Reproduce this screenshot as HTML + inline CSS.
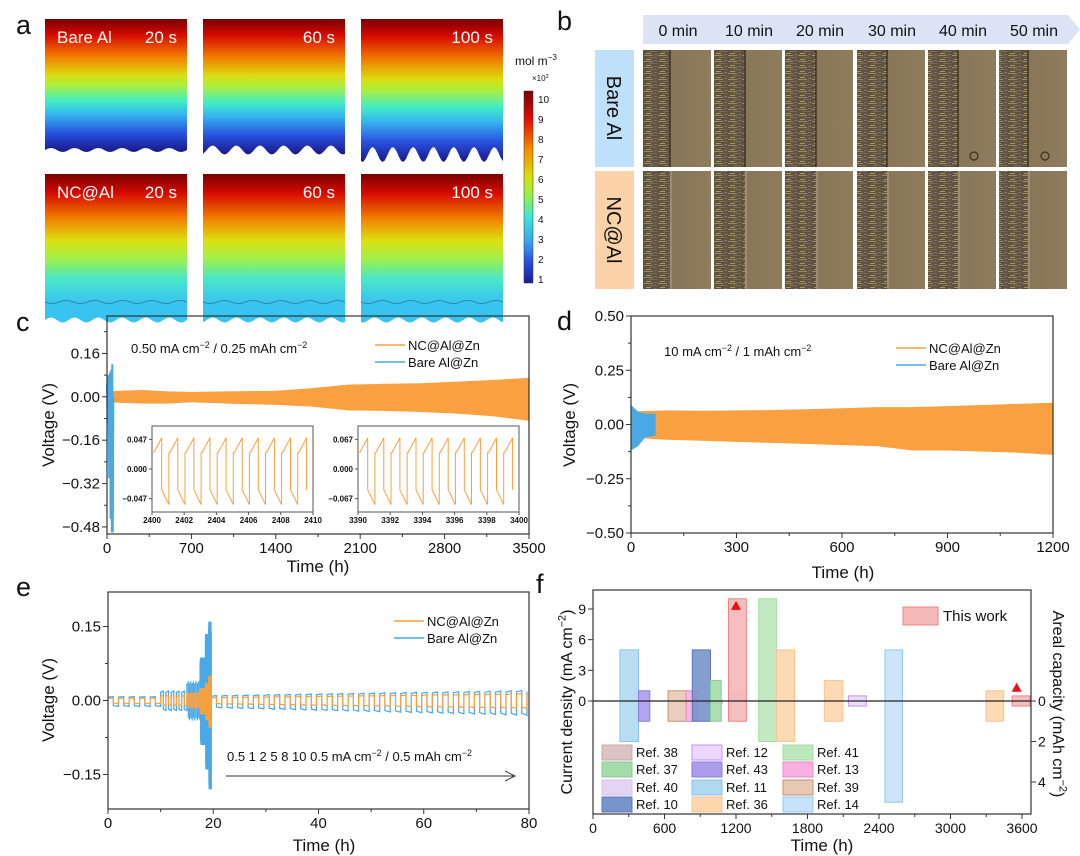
<!DOCTYPE html>
<html><head><meta charset="utf-8"><title>Figure</title>
<style>
html,body{margin:0;padding:0;background:#fff;}
svg{display:block;font-family:"Liberation Sans",Arial,sans-serif;}
</style></head>
<body>
<svg id="fig" xmlns="http://www.w3.org/2000/svg" width="1080" height="856" viewBox="0 0 1080 856">
<defs>
<linearGradient id="jet" x1="0" y1="0" x2="0" y2="1">
<stop offset="0" stop-color="#7a0000"/><stop offset="0.12" stop-color="#d60a00"/><stop offset="0.28" stop-color="#f27a00"/><stop offset="0.42" stop-color="#dcdc10"/><stop offset="0.5" stop-color="#a8f040"/><stop offset="0.62" stop-color="#40ecc8"/><stop offset="0.72" stop-color="#36b4f0"/><stop offset="0.86" stop-color="#2850e0"/><stop offset="1" stop-color="#1a1888"/>
</linearGradient>
<linearGradient id="jetnc" x1="0" y1="0" x2="0" y2="1">
<stop offset="0" stop-color="#7a0000"/><stop offset="0.15" stop-color="#d60a00"/><stop offset="0.35" stop-color="#f28000"/><stop offset="0.52" stop-color="#dce010"/><stop offset="0.66" stop-color="#a0f048"/><stop offset="0.82" stop-color="#48e8c8"/><stop offset="1" stop-color="#38c4f0"/>
</linearGradient>
<linearGradient id="cbar" x1="0" y1="0" x2="0" y2="1">
<stop offset="0" stop-color="#7a0000"/><stop offset="0.15" stop-color="#e01000"/><stop offset="0.3" stop-color="#f28a00"/><stop offset="0.45" stop-color="#d8e010"/><stop offset="0.55" stop-color="#90f050"/><stop offset="0.65" stop-color="#40e8d0"/><stop offset="0.78" stop-color="#36a8f0"/><stop offset="0.9" stop-color="#2848e0"/><stop offset="1" stop-color="#1c1c90"/>
</linearGradient>
<pattern id="metal" width="14" height="6" patternUnits="userSpaceOnUse">
<rect width="14" height="6" fill="#5e5240"/>
<rect x="0" y="1" width="9" height="1" fill="#9a8c5c"/>
<rect x="5" y="3" width="8" height="1" fill="#7d6a58"/>
<rect x="2" y="5" width="5" height="1" fill="#a89860"/>
<rect x="10" y="0" width="3" height="1" fill="#8a6e78"/>
</pattern>
<linearGradient id="tan" x1="0" y1="0" x2="1" y2="0">
<stop offset="0" stop-color="#5c5240"/><stop offset="0.25" stop-color="#857456"/><stop offset="1" stop-color="#8e7c5c"/>
</linearGradient>
</defs>
<g id="panelA"></g>
<g id="panelB"></g>
<g id="panelC"></g>
<g id="panelD"></g>
<g id="panelE"></g>
<g id="panelF"></g>
</svg>
<script>
// ---------- data ----------
const cTimes=[0,100,300,500,700,1000,1400,1700,2000,2300,2600,2900,3200,3500];
const cUpper=[0.02,0.022,0.025,0.02,0.018,0.02,0.022,0.032,0.045,0.048,0.05,0.056,0.062,0.07];
const cLower=[-0.02,-0.022,-0.025,-0.025,-0.02,-0.025,-0.03,-0.036,-0.05,-0.052,-0.056,-0.062,-0.072,-0.088];
const cBlueT=[0,6,12,18,24,30,36,40,44,48,52];
const cBlueV=[0.05,-0.1,0.08,-0.3,0.09,-0.45,0.1,-0.5,0.12,-0.5,0.0];
const dTimes=[0,100,200,300,400,500,600,700,800,900,1000,1100,1200];
const dUpper=[0.06,0.065,0.063,0.065,0.067,0.07,0.075,0.08,0.08,0.085,0.09,0.095,0.1];
const dLower=[-0.06,-0.07,-0.075,-0.08,-0.085,-0.09,-0.095,-0.1,-0.12,-0.12,-0.125,-0.13,-0.14];
const dBlueT=[0,20,40,70];
const dBlueUp=[0.09,0.06,0.05,0.05];
const dBlueLow=[-0.12,-0.1,-0.06,-0.05];
const eRates=[0.5,1,2,5,8,10,0.5];
const eCycles=[5,5,5,5,5,5,30];
const ePeriod=[2,1,0.5,0.2,0.125,0.1,2];
const eBlueUpStart=[0.008,0.019,0.037,0.087,0.135,0.16,0.01];
const eBlueUpEnd=[0.008,0.019,0.037,0.087,0.135,0.16,0.02];
const eBlueLowStart=[-0.012,-0.02,-0.038,-0.09,-0.14,-0.18,-0.015];
const eBlueLowEnd=[-0.012,-0.02,-0.038,-0.09,-0.14,-0.18,-0.03];
const eOrUpStart=[0.005,0.01,0.015,0.025,0.035,0.05,0.006];
const eOrUpEnd=[0.005,0.01,0.015,0.025,0.035,0.05,0.014];
const eOrLowStart=[-0.006,-0.01,-0.015,-0.028,-0.04,-0.055,-0.007];
const eOrLowEnd=[-0.006,-0.01,-0.015,-0.028,-0.04,-0.055,-0.016];
const fNames=["Ref. 11","Ref. 43","Ref. 39","Ref. 13","Ref. 38","Ref. 10","Ref. 37","Ref. 40","This work","Ref. 41","Ref. 36","Ref. 36","Ref. 12","Ref. 14","Ref. 36","This work"];
const fStart=[226,382,630,781,940,833,986,1137,1137,1391,1539,1941,2143,2450,3297,3517];
const fEnd=[382,477,781,882,1085,986,1076,1287,1287,1539,1692,2097,2293,2597,3447,3667];
const fCurrent=[5,1,1,1,0,5,2,1,10,10,5,2,0.5,5,1,0.5];
const fCapacity=[2,1,1,1,0.1,1,1,0,1,2,2,1,0.25,5,1,0.25];
const fMarkT=[1200,3555];
const fMarkV=[9.3,1.3];
const legendNames=["Ref. 38","Ref. 37","Ref. 40","Ref. 10","Ref. 12","Ref. 43","Ref. 11","Ref. 36","Ref. 41","Ref. 13","Ref. 39","Ref. 14"];
const colorMap={"Ref. 38":["#dcc4c4","#c8a8a8"],"Ref. 37":["#a4dcac","#88cc90"],"Ref. 40":["#e4d4f4","#d4c0ec"],"Ref. 10":["#7894cc","#5878b8"],"Ref. 12":["#ecd8fc","#c490f4"],"Ref. 43":["#ac9cec","#8c7ce0"],"Ref. 11":["#b0d8ee","#84c4f0"],"Ref. 36":["#fcd6ac","#f8c490"],"Ref. 41":["#bce8bc","#a0dca0"],"Ref. 13":["#f8b0e0","#f084c8"],"Ref. 39":["#e8c8b4","#c09474"],"Ref. 14":["#c8e2fa","#94c8f8"],"This work":["#f4b8b8","#f08484"]};

// ---------- helpers ----------
const NS="http://www.w3.org/2000/svg";
function el(tag,attrs,parent){const e=document.createElementNS(NS,tag);for(const k in attrs)e.setAttribute(k,attrs[k]);parent.appendChild(e);return e;}
function txt(parent,x,y,s,size,anchor,extra){const t=el("text",Object.assign({x:x,y:y,"font-size":size,"text-anchor":anchor||"start",fill:"#111"},extra||{}),parent);t.textContent=s;return t;}
function supText(parent,x,y,parts,size,anchor,rot){
  const t=el("text",{x:x,y:y,"font-size":size,"text-anchor":anchor||"start",fill:"#111"},parent);
  if(rot)t.setAttribute("transform",rot);
  parts.forEach(p=>{const s=el("tspan",{},t);if(p[1]){s.setAttribute("dy",-size*0.4);s.setAttribute("font-size",size*0.68);}else if(p[2]){s.setAttribute("dy",size*0.4);}s.textContent=p[0];});
  return t;
}
function lin(d0,d1,r0,r1){return v=>r0+(v-d0)/(d1-d0)*(r1-r0);}
function fmt(v,dec){let s=v.toFixed(dec);if(v<0)s="\u2212"+s.slice(1);return s;}

function axes(g,x0,x1,y0,y1,sx,sy,xt,xminor,yt,yminor,xdec,ydec,fs){
  const fr=el("rect",{x:x0,y:y0,width:x1-x0,height:y1-y0,fill:"none",stroke:"#333","stroke-width":1.2},g);
  
  xt.forEach(v=>{const X=sx(v);el("line",{x1:X,x2:X,y1:y1,y2:y1+5,stroke:"#333"},g);
    const t=txt(g,X,y1+19,v.toFixed(xdec),fs,"middle");});
  xminor.forEach(v=>{const X=sx(v);el("line",{x1:X,x2:X,y1:y1,y2:y1+3,stroke:"#333"},g);});
  yt.forEach(v=>{const Y=sy(v);el("line",{x1:x0-5,x2:x0,y1:Y,y2:Y,stroke:"#333"},g);
    const t=txt(g,x0-7,Y+5,fmt(v,ydec),fs,"end");});
  yminor.forEach(v=>{const Y=sy(v);el("line",{x1:x0-3,x2:x0,y1:Y,y2:Y,stroke:"#333"},g);});
}
function legend(g,x,y,names,colors,fs){
  names.forEach((n,i)=>{const lg=el("g",{},g);
    el("line",{x1:x,x2:x+30,y1:y+i*17,y2:y+i*17,stroke:colors[i],"stroke-width":1.5},lg);
    txt(lg,x+33,y+i*17+5,n,fs);});
}
function letter(g,x,y,s){const t=txt(g,x,y,s,27,"start");}

// ---------- panel a ----------
(function(){
  const g=document.getElementById("panelA");
  letter(g,16,34,"a");
  const cols=[45,203,361];const w=142;
  const wavesTop=[[4,6],[9,6],[15,7]];
  const times=["20 s","60 s","100 s"];
  cols.forEach((x,i)=>{
    const top=19,base=150,amp=wavesTop[i][0],n=wavesTop[i][1];
    let d=`M${x},${top} L${x+w},${top} L${x+w},${base-amp*0.3}`;
    for(let k=0;k<=60;k++){const xx=x+w-k*w/60;const yy=base+amp*0.5*Math.sin(k/60*n*2*Math.PI+i)+ (i==2?amp*0.3:0);d+=` L${xx.toFixed(1)},${yy.toFixed(1)}`;}
    d+=" Z";
    const p=el("path",{d:d,fill:"url(#jet)"},g);
    const top2=174,base2=320;
    let d2=`M${x},${top2} L${x+w},${top2} L${x+w},${base2}`;
    for(let k=0;k<=60;k++){const xx=x+w-k*w/60;const yy=base2+2.5*Math.sin(k/60*6*2*Math.PI+i);d2+=` L${xx.toFixed(1)},${yy.toFixed(1)}`;}
    d2+=" Z";
    el("path",{d:d2,fill:"#38c4f0"},g);
    const p2=el("rect",{x:x,y:top2,width:w,height:128,fill:"url(#jetnc)"},g);
    let d3=`M${x},302`;for(let k=0;k<=40;k++){d3+=` L${(x+k*w/40).toFixed(1)},${(302+1.5*Math.sin(k/40*5*2*Math.PI)).toFixed(1)}`;}
    el("path",{d:d3,fill:"none",stroke:"#2a7a90","stroke-width":0.8},g);
    txt(g,x+w-10,43,times[i],17,"end",{fill:"#fff"});
    txt(g,x+w-10,198,times[i],17,"end",{fill:"#fff"});
  });
  txt(g,57,43,"Bare Al",17,"start",{fill:"#fff"});
  txt(g,57,198,"NC@Al",17,"start",{fill:"#fff"});
  const cb=el("rect",{x:524,y:91,width:9,height:192,fill:"url(#cbar)",stroke:"#333","stroke-width":0.5},g);
  
  supText(g,515,65,[["mol m"],["\u22123",1]],12,"start");
  supText(g,532,81,[["\u00d710"],["2",1]],8,"start");
  for(let v=1;v<=10;v++){const Y=279-(v-1)*(180/9);txt(g,538,Y+4,String(v),10,"start");}
})();

// ---------- panel b ----------
(function(){
  const g=document.getElementById("panelB");
  letter(g,557,30,"b");
  const ban=el("path",{d:"M643,15 L1068,15 L1080,29.5 L1068,44 L643,44 Z",fill:"#dbe4f4"},g);
  
  const labels=["0 min","10 min","20 min","30 min","40 min","50 min"];
  const cx=[643,714,785,857,928,999];
  labels.forEach((l,i)=>txt(g,cx[i]+35,36,l,16,"middle"));
  const b1=el("rect",{x:595,y:50,width:39,height:117,fill:"#bfe0fa"},g);
  const b2=el("rect",{x:595,y:171,width:39,height:118,fill:"#fcd3a8"},g);
  txt(g,0,0,"Bare Al",20,"middle",{transform:"translate(607,108) rotate(90)"});
  txt(g,0,0,"NC@Al",20,"middle",{transform:"translate(607,230) rotate(90)"});
  const bnd=[27,31,31,30,30,29];
  cx.forEach((x,i)=>{
    [[50,117,0],[171,118,1]].forEach(r=>{
      const ph=el("g",{},g);
      el("rect",{x:x,y:r[0],width:68,height:r[1],fill:"url(#tan)"},ph);
      el("rect",{x:x,y:r[0],width:bnd[i],height:r[1],fill:"url(#metal)"},ph);
      if(r[2]==1)el("line",{x1:x+bnd[i]+1,x2:x+bnd[i]+1,y1:r[0],y2:r[0]+r[1],stroke:"#c8a8b0","stroke-width":0.8},ph);
      else el("line",{x1:x+bnd[i],x2:x+bnd[i],y1:r[0],y2:r[0]+r[1],stroke:"#2a2418","stroke-width":1.2},ph);
      if(r[2]==0&&i>=4)el("circle",{cx:x+46,cy:156,r:4,fill:"none",stroke:"#3a3020","stroke-width":1.2},ph);
    });
  });
})();

// ---------- panel c ----------
(function(){
  const g=document.getElementById("panelC");
  letter(g,16,331,"c");
  const x0=107,x1=529,y0=316,y1=534;
  const sx=lin(0,3500,x0,x1),sy=lin(0.298,-0.506,y0,y1);
  let pts=cTimes.map((t,i)=>`${sx(t).toFixed(1)},${sy(cUpper[i]).toFixed(1)}`);
  pts=pts.concat(cTimes.slice().reverse().map((t,j)=>{const i=cTimes.length-1-j;return `${sx(t).toFixed(1)},${sy(cLower[i]).toFixed(1)}`;}));
  const band=el("polygon",{points:pts.join(" "),fill:"#f9a040"},g);
  const bl=el("polyline",{points:cBlueT.map((t,i)=>`${sx(t).toFixed(1)},${Math.min(Math.max(sy(cBlueV[i]),y0),y1).toFixed(1)}`).join(" "),fill:"none",stroke:"#4aa8e4","stroke-width":2},g);
  
  axes(g,x0,x1,y0,y1,sx,sy,[0,700,1400,2100,2800,3500],[350,1050,1750,2450,3150],[0.16,0,-0.16,-0.32,-0.48],[0.24,0.08,-0.08,-0.24,-0.40],0,2,15);
  txt(g,0,0,"Voltage (V)",17,"middle",{transform:"translate(54,425) rotate(-90)"});
  txt(g,318,572,"Time (h)",17,"middle");
  supText(g,131,353,[["0.50 mA cm"],["\u22122",1],[" / 0.25 mAh cm",0,1],["\u22122",1]],13,"start");
  legend(g,375,345,["NC@Al@Zn","Bare Al@Zn"],["#f9a040","#4aa8e4"],13);
  const insT0=[2400,3390],insAmp=[0.047,0.067],insX=[152,358];
  insT0.forEach((t0,k)=>{
    const ig=el("g",{},g);
    const ix0=insX[k],ix1=insX[k]+161,iy0=426,iy1=512;
    el("rect",{x:ix0,y:iy0,width:161,height:86,fill:"#fff",stroke:"#555","stroke-width":1},ig);
    const a=insAmp[k];const isx=lin(t0,t0+10,ix0,ix1),isy=lin(a*1.45,-a*1.45,iy0,iy1);
    let p=[];for(let c=0;c<10;c++){const t=t0+c+0.1;p.push([t,0.55*a],[t+0.5,1.05*a],[t+0.5,-0.7*a],[t+0.95,-1.2*a],[t+0.95,0.55*a]);}
    const pl=el("polyline",{points:p.filter(q=>q[0]<=t0+10).map(q=>`${isx(q[0]).toFixed(1)},${isy(q[1]).toFixed(1)}`).join(" "),fill:"none",stroke:"#f5a040","stroke-width":1},ig);
    
    [a,0,-a].forEach(v=>{const Y=isy(v);el("line",{x1:ix0-3,x2:ix0,y1:Y,y2:Y,stroke:"#555"},ig);txt(ig,ix0-5,Y+3,fmt(v,3),8,"end",{"font-weight":"bold"});});
    for(let j=0;j<=5;j++){const X=isx(t0+2*j);el("line",{x1:X,x2:X,y1:iy1,y2:iy1+3,stroke:"#555"},ig);txt(ig,X,iy1+11,String(t0+2*j),8,"middle",{"font-weight":"bold"});}
  });
})();

// ---------- panel d ----------
(function(){
  const g=document.getElementById("panelD");
  letter(g,557,330,"d");
  const x0=631,x1=1053,y0=316,y1=533;
  const sx=lin(0,1200,x0,x1),sy=lin(0.5,-0.5,y0,y1);
  let pts=dTimes.map((t,i)=>`${sx(t).toFixed(1)},${sy(dUpper[i]).toFixed(1)}`);
  pts=pts.concat(dTimes.slice().reverse().map((t,j)=>{const i=dTimes.length-1-j;return `${sx(t).toFixed(1)},${sy(dLower[i]).toFixed(1)}`;}));
  const band=el("polygon",{points:pts.join(" "),fill:"#f9a040"},g);
  let bp=dBlueT.map((t,i)=>`${sx(t).toFixed(1)},${sy(dBlueUp[i]).toFixed(1)}`);
  bp=bp.concat(dBlueT.slice().reverse().map((t,j)=>{const i=dBlueT.length-1-j;return `${sx(t).toFixed(1)},${sy(dBlueLow[i]).toFixed(1)}`;}));
  const bl=el("polygon",{points:bp.join(" "),fill:"#4aa8e4"},g);
  axes(g,x0,x1,y0,y1,sx,sy,[0,300,600,900,1200],[150,450,750,1050],[0.5,0.25,0,-0.25,-0.5],[0.375,0.125,-0.125,-0.375],0,2,15);
  txt(g,0,0,"Voltage (V)",17,"middle",{transform:"translate(575,425) rotate(-90)"});
  txt(g,843,578,"Time (h)",17,"middle");
  supText(g,664,356,[["10 mA cm"],["\u22122",1],[" / 1 mAh cm",0,1],["\u22122",1]],13,"start");
  legend(g,896,348,["NC@Al@Zn","Bare Al@Zn"],["#f9a040","#4aa8e4"],13);
})();

// ---------- panel e ----------
(function(){
  const g=document.getElementById("panelE");
  letter(g,16,596,"e");
  const x0=108,x1=529,y0=592,y1=809;
  const sx=lin(0,80,x0,x1),sy=lin(0.22,-0.22,y0,y1);
  function wave(us,ue,ls,le){
    let t=0,p=[];
    eRates.forEach((r,s)=>{const n=eCycles[s],P=ePeriod[s];
      for(let c=0;c<n;c++){const f=n>1?c/(n-1):0;const u=us[s]+(ue[s]-us[s])*f,l=ls[s]+(le[s]-ls[s])*f;
        p.push([t,0.88*u],[t+P/2,u],[t+P/2,0.88*l],[t+P,l],[t+P,0.88*u]);t+=P;}});
    return p.map(q=>`${sx(q[0]).toFixed(1)},${sy(q[1]).toFixed(1)}`).join(" ");
  }
  const b=el("polyline",{points:wave(eBlueUpStart,eBlueUpEnd,eBlueLowStart,eBlueLowEnd),fill:"none",stroke:"#48a8e8","stroke-width":1.2},g);
  
  const o=el("polyline",{points:wave(eOrUpStart,eOrUpEnd,eOrLowStart,eOrLowEnd),fill:"none",stroke:"#f7a040","stroke-width":1.2},g);
  
  axes(g,x0,x1,y0,y1,sx,sy,[0,20,40,60,80],[10,30,50,70],[0.15,0,-0.15],[0.075,-0.075],0,2,15);
  txt(g,0,0,"Voltage (V)",17,"middle",{transform:"translate(54,700) rotate(-90)"});
  txt(g,324,851,"Time (h)",17,"middle");
  legend(g,394,621,["NC@Al@Zn","Bare Al@Zn"],["#f7a040","#48a8e8"],13);
  supText(g,227,761,[["0.5   1   2   5   8   10   0.5 mA cm"],["\u22122",1],[" / 0.5 mAh cm",0,1],["\u22122",1]],13,"start").setAttribute("xml:space","preserve");
  const ar=el("g",{},g);
  el("line",{x1:226,x2:515,y1:776,y2:776,stroke:"#333","stroke-width":1},ar);
  el("path",{d:"M505,771 L515,776 L505,781",fill:"none",stroke:"#333","stroke-width":1},ar);
})();

// ---------- panel f ----------
(function(){
  const g=document.getElementById("panelF");
  letter(g,536,593,"f");
  const x0=593,x1=1031,y0=590,y1=814;
  const sx=lin(0,3600,x0,1022),sy=lin(0,9,701,609),sc=lin(0,2,701,741.5);
  fNames.forEach((n,i)=>{const c=colorMap[n];
    const ya=sy(fCurrent[i]),yb=sc(fCapacity[i]);
    const r=el("rect",{x:sx(fStart[i]),y:ya,width:sx(fEnd[i])-sx(fStart[i]),height:Math.max(yb-ya,0.5),fill:c[0],stroke:c[1],"stroke-width":1,"fill-opacity":0.9},g);
    
    
  });
  el("line",{x1:x0,x2:x1,y1:sy(0),y2:sy(0),stroke:"#222","stroke-width":1.3},g);
  fMarkT.forEach((t,i)=>{const X=sx(t),Y=sy(fMarkV[i]);
    const m=el("path",{d:`M${X-5},${Y+4} L${X+5},${Y+4} L${X},${Y-5} Z`,fill:"#e81010"},g);
    });
  const fr=el("rect",{x:x0,y:y0,width:x1-x0,height:y1-y0,fill:"none",stroke:"#333","stroke-width":1.2},g);
  
  [0,600,1200,1800,2400,3000,3600].forEach(v=>{const X=sx(v);el("line",{x1:X,x2:X,y1:y1,y2:y1+5,stroke:"#333"},g);txt(g,X,y1+19,String(v),14,"middle");});
  [300,900,1500,2100,2700,3300].forEach(v=>{const X=sx(v);el("line",{x1:X,x2:X,y1:y1,y2:y1+3,stroke:"#333"},g);});
  [0,3,6,9].forEach(v=>{const Y=sy(v);el("line",{x1:x0-5,x2:x0,y1:Y,y2:Y,stroke:"#333"},g);txt(g,x0-7,Y+5,String(v),14,"end");});
  [0,2,4].forEach(v=>{const Y=sc(v);el("line",{x1:x1,x2:x1+5,y1:Y,y2:Y,stroke:"#333"},g);txt(g,x1+7,Y+5,String(v),14,"start");});
  supText(g,0,0,[["Current density (mA cm"],["\u22122",1],[")",0,1]],16,"middle","translate(572,702) rotate(-90)");
  supText(g,0,0,[["Areal capacity (mAh cm"],["\u22122",1],[")",0,1]],16,"middle","translate(1053,704) rotate(90)");
  txt(g,822,851,"Time (h)",17,"middle");
  const lx=[602,692,783],ly=[752,769,787,804];
  legendNames.forEach((n,i)=>{const col=Math.floor(i/4),row=i%4;const c=colorMap[n];
    const lg=el("g",{},g);
    el("rect",{x:lx[col],y:ly[row]-7,width:30,height:15,fill:c[0],stroke:c[1]},lg);
    txt(lg,lx[col]+34,ly[row]+5,n,13);});
  const tw=el("g",{},g);
  el("rect",{x:903,y:607,width:35,height:18,fill:"#f4b8b8",stroke:"#f08484"},tw);
  txt(tw,943,621,"This work",15);
})();
</script>
</body></html>
